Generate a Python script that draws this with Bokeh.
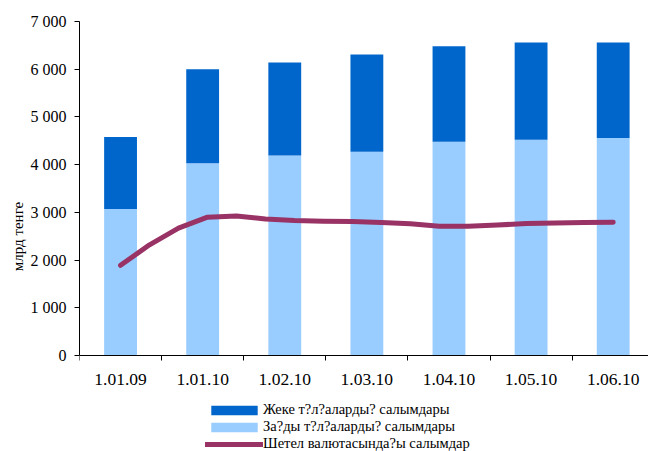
import numpy as np
from bokeh.plotting import figure
from bokeh.models import Range1d, FixedTicker, Legend, LegendItem, ColumnDataSource
from bokeh.embed import file_html
from bokeh.resources import INLINE

categories = ["1.01.09", "1.01.10", "1.02.10", "1.03.10", "1.04.10", "1.05.10", "1.06.10"]
legal_deposits = [3070, 4030, 4190, 4270, 4480, 4520, 4560]
individual_deposits = [1510, 1970, 1950, 2040, 2000, 2040, 2000]
foreign_currency = [1890, 2320, 2670, 2900, 2925, 2860, 2830, 2815, 2810,
                    2790, 2760, 2710, 2710, 2735, 2765, 2775, 2790, 2795]
y_ticks = [0, 1000, 2000, 3000, 4000, 5000, 6000, 7000]
y_tick_labels = ["0", "1 000", "2 000", "3 000", "4 000", "5 000", "6 000", "7 000"]
series_names = ["Жеке т?л?аларды? салымдары",
                "За?ды т?л?аларды? салымдары",
                "Шетел валютасында?ы салымдар"]
y_title = "млрд тенге"

FONT = "'Liberation Serif', 'Times New Roman', serif"
DARK = "#0066CC"
LIGHT = "#99CCFF"
LINE = "#993366"

n = len(categories)
bar_x = [i + 0.5 for i in range(n)]
totals = [a + b for a, b in zip(legal_deposits, individual_deposits)]
line_x = list(np.linspace(bar_x[0], bar_x[-1], len(foreign_currency)))

bars = ColumnDataSource(dict(x=bar_x, legal=legal_deposits, total=totals))
line_src = ColumnDataSource(dict(x=line_x, y=foreign_currency))

W, H = 648, 451
TOP, PLOT_H, LEFT = 21, 334, 79
y_max = y_ticks[-1]
y_min = -y_max * (H - TOP - PLOT_H) / PLOT_H   # room below zero for labels and legend

p = figure(width=W, height=H, output_backend="svg", toolbar_location=None,
           x_range=Range1d(0, 6.93), y_range=Range1d(y_min, y_max),
           min_border_left=LEFT, min_border_right=0, min_border_top=TOP,
           min_border_bottom=0)
p.outline_line_color = None
p.xgrid.visible = False
p.ygrid.visible = False
p.background_fill_color = "white"
p.border_fill_color = "white"

r_light = p.vbar(x="x", bottom=0, top="legal", width=0.4, source=bars,
                 fill_color=LIGHT, line_color=None)
r_dark = p.vbar(x="x", bottom="legal", top="total", width=0.4, source=bars,
                fill_color=DARK, line_color=None)
r_line = p.line(x="x", y="y", source=line_src, line_color=LINE, line_width=5,
                line_cap="round", line_join="round")

xa = p.xaxis[0]
xa.fixed_location = 0
xa.ticker = FixedTicker(ticks=bar_x, minor_ticks=list(range(n + 1)))
xa.major_label_overrides = {x: c for x, c in zip(bar_x, categories)}
xa.major_tick_line_color = None
xa.major_tick_out = 5
xa.major_tick_in = 0
xa.minor_tick_line_color = "black"
xa.minor_tick_out = 5
xa.minor_tick_in = 0
xa.major_label_standoff = 13
xa.major_label_text_font = FONT
xa.major_label_text_font_size = "17.5px"
xa.major_label_text_color = "black"
xa.axis_line_color = "black"

ya = p.yaxis[0]
ya.bounds = (0, y_max)
ya.ticker = FixedTicker(ticks=y_ticks, minor_ticks=[])
ya.major_label_overrides = {t: l for t, l in zip(y_ticks, y_tick_labels)}
ya.major_tick_line_color = "black"
ya.major_tick_out = 5
ya.major_tick_in = 0
ya.major_label_standoff = 8
ya.major_label_text_font = FONT
ya.major_label_text_font_size = "16px"
ya.major_label_text_color = "black"
ya.axis_line_color = "black"
ya.axis_label = y_title
ya.axis_label_text_font = FONT
ya.axis_label_text_font_size = "15px"
ya.axis_label_text_font_style = "normal"
ya.axis_label_text_color = "black"
ya.axis_label_standoff = 2

legend = Legend(items=[LegendItem(label=series_names[0], renderers=[r_dark]),
                       LegendItem(label=series_names[1], renderers=[r_light]),
                       LegendItem(label=series_names[2], renderers=[r_line])],
                location=(126, -1), orientation="vertical",
                glyph_width=58, glyph_height=12, label_height=12, spacing=0,
                label_standoff=0, padding=0, margin=0,
                border_line_color=None, background_fill_alpha=0,
                label_text_font=FONT, label_text_font_size="14.5px",
                label_text_color="black")
p.add_layout(legend)

open("out.html", "w").write(file_html(p, INLINE))
